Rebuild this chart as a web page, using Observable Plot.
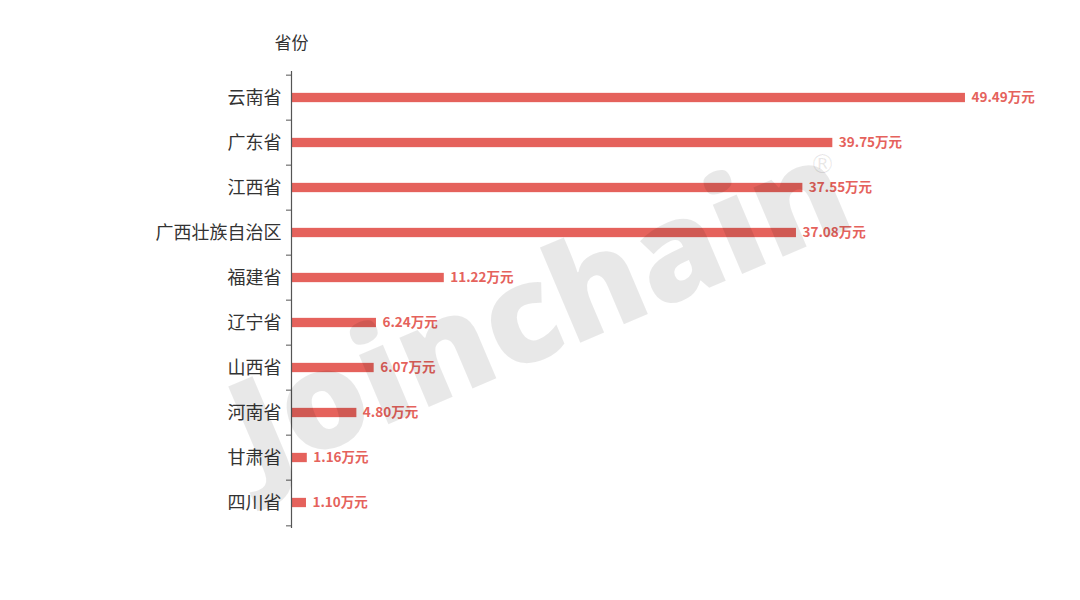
<!DOCTYPE html>
<html>
<head>
<meta charset="utf-8">
<script src="https://cdn.jsdelivr.net/npm/d3@7"></script>
<script src="https://cdn.jsdelivr.net/npm/@observablehq/plot@0.6"></script>
<style>
  html, body { margin: 0; padding: 0; background: #fff; }
  #chart svg { display: block; }
</style>
</head>
<body>
<div id="chart"></div>
<script>
const provinces = ["云南省", "广东省", "江西省", "广西壮族自治区", "福建省", "辽宁省", "山西省", "河南省", "甘肃省", "四川省"];
const values = [49.49, 39.75, 37.55, 37.08, 11.22, 6.24, 6.07, 4.80, 1.16, 1.10];
const unit = "万元";
const axisTitle = "省份";
const watermark = "Joinchain";

const data = provinces.map((p, i) => ({province: p, value: values[i]}));

const W = 1080, H = 600;
const mTop = 71, mBottom = 72, mLeft = 291, mRight = 40;
const bw = (H - mTop - mBottom) / provinces.length;
const barH = 10;
const barColor = "#e5625c";
const font = "'Noto Sans CJK SC', 'Noto Sans', sans-serif";

const chart = Plot.plot({
  width: W,
  height: H,
  marginTop: mTop,
  marginBottom: mBottom,
  marginLeft: mLeft,
  marginRight: mRight,
  style: {fontFamily: font, background: "#fff"},
  x: {domain: [0, 55], axis: null},
  y: {type: "band", domain: provinces, padding: 0, axis: null},
  marks: [
    Plot.barX(data, {
      y: "province", x1: 0, x2: "value", fill: barColor,
      insetTop: (bw - barH) / 2, insetBottom: (bw - barH) / 2
    }),
    Plot.text(data, {
      y: "province", x: "value", text: d => d.value.toFixed(2) + unit,
      textAnchor: "start", dx: 6, fill: barColor, fontSize: 13.5, fontWeight: "bold"
    }),
    Plot.ruleX([0], {stroke: "#555", strokeWidth: 1.2}),
    Plot.axisY({ticks: provinces, tickSize: 5, tickFormat: () => "", dy: -bw / 2, stroke: "#555", label: null}),
    Plot.axisY({ticks: provinces.slice(-1), tickSize: 5, tickFormat: () => "", dy: bw / 2, stroke: "#555", label: null}),
    Plot.axisY({ticks: provinces, tickSize: 0, tickPadding: 10, fontSize: 18, fill: "#333", label: null}),
    Plot.text([axisTitle], {
      frameAnchor: "top-left", dy: -35, text: d => d, textAnchor: "middle",
      fontSize: 17, fill: "#333"
    }),
    Plot.text([watermark], {
      frameAnchor: "top-left", dx: 228, dy: 192, text: d => d, textAnchor: "middle",
      rotate: -23, fontSize: 136, fontWeight: 800, fill: "#000", fillOpacity: 0.09,
      fontFamily: "'Open Sans', sans-serif"
    }),
    Plot.text(["®"], {
      frameAnchor: "top-left", dx: 531, dy: 83, text: d => d, textAnchor: "middle", fontSize: 26,
      fill: "#000", fillOpacity: 0.09, fontFamily: "'DejaVu Sans', sans-serif"
    })
  ]
});

document.getElementById("chart").appendChild(chart);
</script>
</body>
</html>
